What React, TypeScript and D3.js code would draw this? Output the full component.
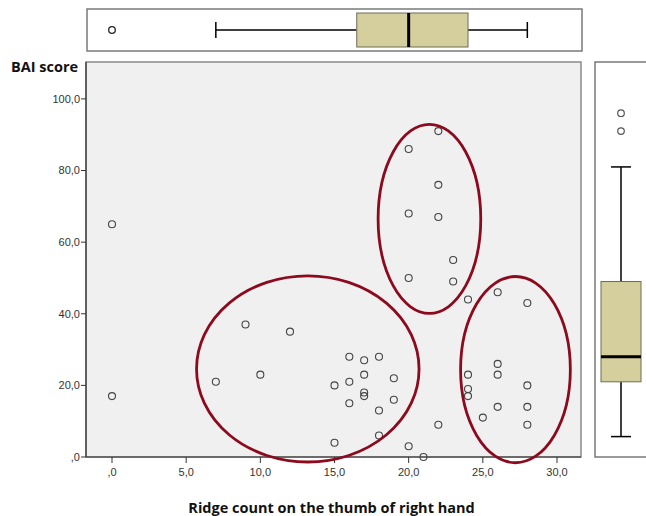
import React from 'react';
import * as d3 from 'd3';

// ridge count (x) and BAI score (y) for each subject
const ridgeCount = [
  0, 0,
  7, 9, 10, 12, 15, 15, 16, 16, 16, 17, 17, 17, 17, 18, 18, 18, 19, 19,
  20, 21, 22,
  20, 20, 20, 22, 22, 22, 23, 23, 24,
  24, 24, 24, 25, 26, 26, 26, 26, 28, 28, 28, 28,
];
const baiScore = [
  65, 17,
  21, 37, 23, 35, 20, 4, 28, 21, 15, 27, 23, 18, 17, 28, 13, 6, 22, 16,
  3, 0, 9,
  86, 68, 50, 91, 76, 67, 55, 49, 44,
  23, 19, 17, 11, 46, 26, 23, 14, 43, 20, 14, 9,
];

const xTicks = [0, 5, 10, 15, 20, 25, 30];
const yTicks = [0, 20, 40, 60, 80, 100];

// boxplot summaries as drawn
const ridgeBox = { min: 7, q1: 16.5, median: 20, q3: 24, max: 28, outliers: [0] };
const baiBox = { min: 5.7, q1: 21, median: 28, q3: 49, max: 81, outliers: [91, 96] };

// hand-drawn groupings: centre and radii in data units
const groups = [
  { cx: 13.2, cy: 24.6, rx: 7.5, ry: 26 },
  { cx: 21.4, cy: 66.5, rx: 3.46, ry: 26.4 },
  { cx: 27.2, cy: 24.4, rx: 3.7, ry: 26 },
];

const fmt = (v: number) => (v === 0 ? ',0' : v.toFixed(1).replace('.', ','));

export default function App() {
  const width = 646;
  const height = 516;
  const plot = { left: 86, right: 581, top: 62, bottom: 457 };

  const x = d3.scaleLinear().domain([-1.753, 31.618]).range([plot.left, plot.right]);
  const y = d3.scaleLinear().domain([0, 110.3]).range([plot.bottom, plot.top]);

  const boxFill = '#d4cf9c';
  const boxStroke = '#6e6c58';
  const tickFont = '"Liberation Sans", Arial, sans-serif';
  const titleFont = '"Open Sans", "DejaVu Sans", sans-serif';

  // top boxplot band
  const tb = { top: 9, bottom: 51, boxTop: 13, boxBottom: 47, mid: 30 };
  // right boxplot band
  const rb = { left: 595, right: 641, boxLeft: 601, boxRight: 641, mid: 621 };

  return (
    <svg
      width={width}
      height={height}
      style={{ position: 'absolute', left: 0, top: 0, background: '#fff' }}
    >
      {/* top boxplot */}
      <rect x={plot.left + 1} y={tb.top} width={plot.right - plot.left} height={tb.bottom - tb.top}
        fill="#fff" stroke="#7a7a7a" strokeWidth={1.5} />
      <line x1={x(ridgeBox.min)} x2={x(ridgeBox.q1)} y1={tb.mid} y2={tb.mid} stroke="#000" strokeWidth={1.5} />
      <line x1={x(ridgeBox.q3)} x2={x(ridgeBox.max)} y1={tb.mid} y2={tb.mid} stroke="#000" strokeWidth={1.5} />
      <line x1={x(ridgeBox.min)} x2={x(ridgeBox.min)} y1={22} y2={38} stroke="#000" strokeWidth={1.5} />
      <line x1={x(ridgeBox.max)} x2={x(ridgeBox.max)} y1={22} y2={38} stroke="#000" strokeWidth={1.5} />
      <rect x={x(ridgeBox.q1)} y={tb.boxTop} width={x(ridgeBox.q3) - x(ridgeBox.q1)} height={tb.boxBottom - tb.boxTop}
        fill={boxFill} stroke={boxStroke} strokeWidth={1} />
      <line x1={x(ridgeBox.median)} x2={x(ridgeBox.median)} y1={tb.boxTop} y2={tb.boxBottom} stroke="#000" strokeWidth={3} />
      {ridgeBox.outliers.map((o, i) => (
        <circle key={i} cx={x(o)} cy={tb.mid} r={3.3} fill="none" stroke="#222" strokeWidth={1.3} />
      ))}

      {/* right boxplot */}
      <rect x={rb.left} y={plot.top} width={rb.right - rb.left + 10} height={plot.bottom - plot.top}
        fill="#fff" stroke="#7a7a7a" strokeWidth={1.5} />
      <line x1={rb.mid} x2={rb.mid} y1={y(baiBox.max)} y2={y(baiBox.q3)} stroke="#000" strokeWidth={1.5} />
      <line x1={rb.mid} x2={rb.mid} y1={y(baiBox.q1)} y2={y(baiBox.min)} stroke="#000" strokeWidth={1.5} />
      <line x1={611} x2={631} y1={y(baiBox.max)} y2={y(baiBox.max)} stroke="#000" strokeWidth={1.5} />
      <line x1={611} x2={631} y1={y(baiBox.min)} y2={y(baiBox.min)} stroke="#000" strokeWidth={1.5} />
      <rect x={rb.boxLeft} y={y(baiBox.q3)} width={rb.boxRight - rb.boxLeft} height={y(baiBox.q1) - y(baiBox.q3)}
        fill={boxFill} stroke={boxStroke} strokeWidth={1} />
      <line x1={rb.boxLeft} x2={rb.boxRight} y1={y(baiBox.median)} y2={y(baiBox.median)} stroke="#000" strokeWidth={3} />
      {baiBox.outliers.map((o, i) => (
        <circle key={i} cx={rb.mid} cy={y(o)} r={3.3} fill="none" stroke="#555" strokeWidth={1.2} />
      ))}

      {/* scatter panel */}
      <rect x={plot.left} y={plot.top} width={plot.right - plot.left} height={plot.bottom - plot.top}
        fill="#f0f0f0" stroke="#8a8a8a" strokeWidth={1.5} />
      <line x1={plot.left} x2={plot.left} y1={plot.top} y2={plot.bottom} stroke="#333" strokeWidth={1.2} />
      <line x1={plot.left} x2={plot.right} y1={plot.bottom} y2={plot.bottom} stroke="#333" strokeWidth={1.2} />

      {yTicks.map((t) => (
        <g key={t}>
          <line x1={plot.left - 5} x2={plot.left} y1={y(t)} y2={y(t)} stroke="#333" strokeWidth={1} />
          <text x={plot.left - 6} y={y(t)} dy="0.35em" textAnchor="end" fontSize={11}
            fontFamily={tickFont} fill="#333">{fmt(t)}</text>
        </g>
      ))}
      {xTicks.map((t) => (
        <g key={t}>
          <line x1={x(t)} x2={x(t)} y1={plot.bottom} y2={plot.bottom + 6} stroke="#333" strokeWidth={1} />
          <text x={x(t)} y={plot.bottom + 19} textAnchor="middle" fontSize={11}
            fontFamily={tickFont} fill="#333">{fmt(t)}</text>
        </g>
      ))}

      {ridgeCount.map((r, i) => (
        <circle key={i} cx={x(r)} cy={y(baiScore[i])} r={3.5} fill="none" stroke="#444" strokeWidth={1.1} />
      ))}

      {groups.map((g, i) => (
        <ellipse key={i} cx={x(g.cx)} cy={y(g.cy)}
          rx={x(g.cx + g.rx) - x(g.cx)} ry={y(g.cy) - y(g.cy + g.ry)}
          fill="none" stroke="#8c0a1e" strokeWidth={2.8} />
      ))}

      <text x={11} y={72} fontSize={14.5} fontWeight="bold" fontFamily={titleFont} fill="#111">BAI score</text>
      <text x={x(14.8)} y={513} textAnchor="middle" fontSize={14.5} fontWeight="bold"
        fontFamily={titleFont} fill="#111">Ridge count on the thumb of right hand</text>
    </svg>
  );
}
